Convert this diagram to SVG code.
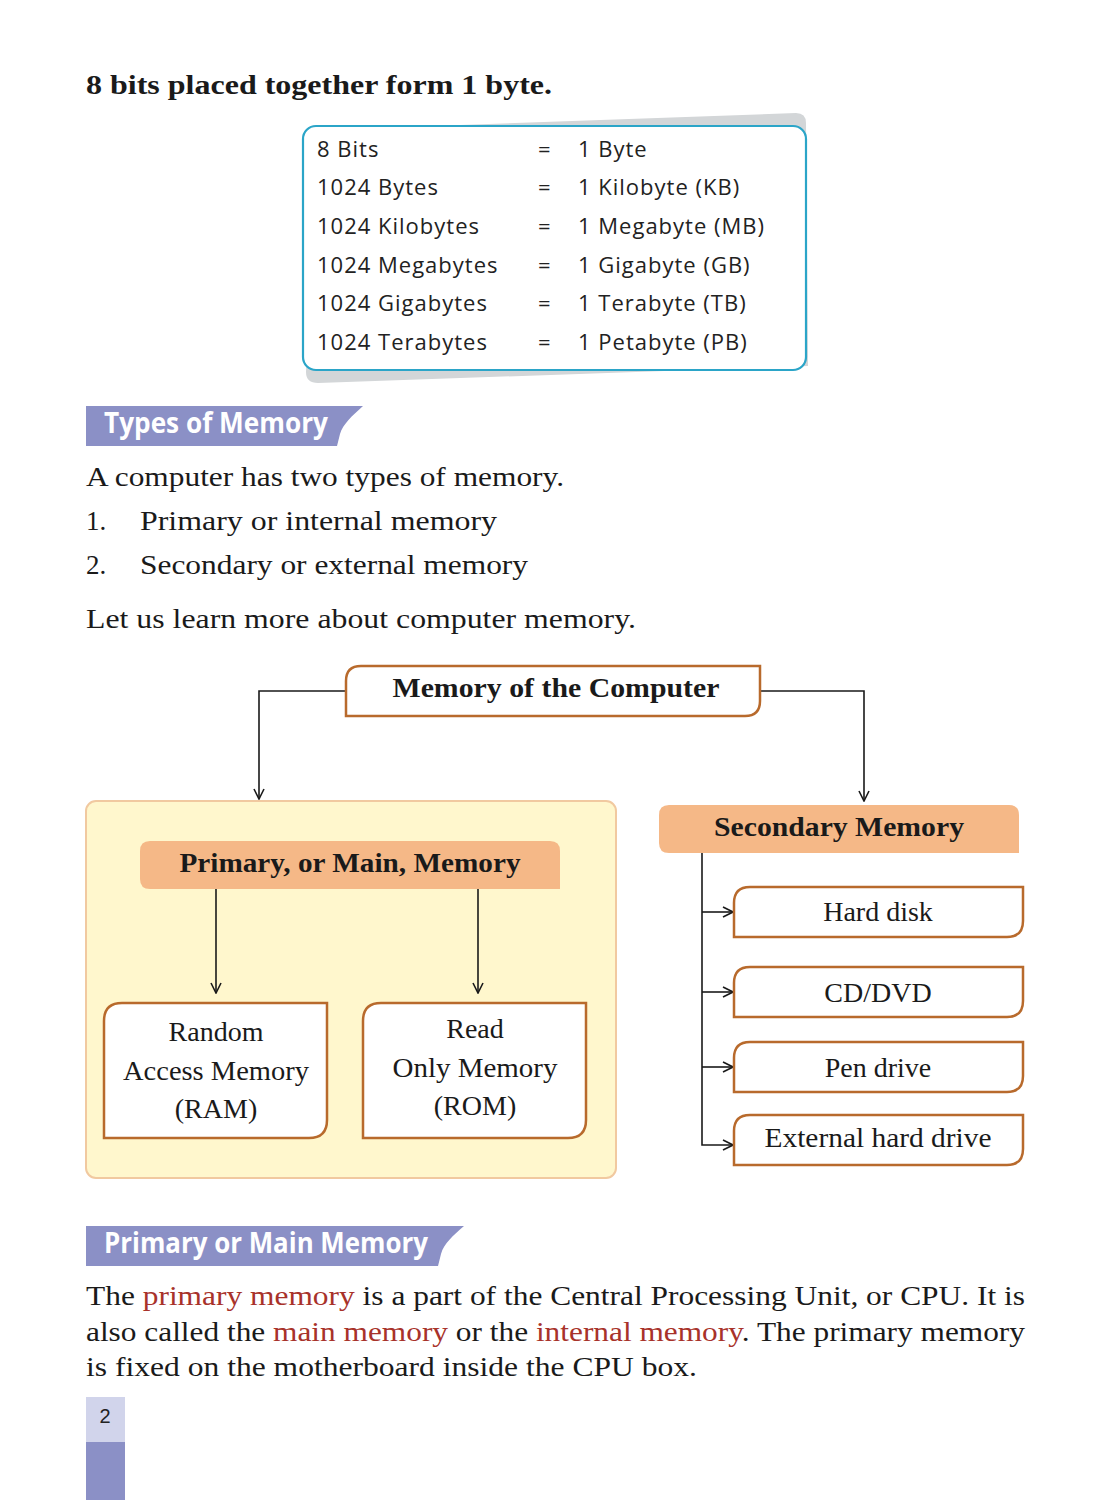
<svg xmlns="http://www.w3.org/2000/svg" width="1109" height="1500" viewBox="0 0 1109 1500">
<defs>
<marker id="arr" viewBox="0 0 12 12" refX="11" refY="6" markerWidth="12" markerHeight="12" markerUnits="userSpaceOnUse" orient="auto">
<path d="M1,1 L11,6 L1,11" fill="none" stroke="#1a1a1a" stroke-width="1.6"/>
</marker>
<style>
.serif{font-family:"Liberation Serif","DejaVu Serif",serif;fill:#1a1a1a}
.body{font-size:27px}
.node{font-size:28px;text-anchor:middle}
.bold{font-weight:bold}
.tbl{font-family:"Open Sans","Noto Sans","Liberation Sans",sans-serif;font-size:22px;fill:#222;letter-spacing:1px}
.ban{font-family:"Open Sans","Liberation Sans",sans-serif;font-weight:bold;font-size:29px;fill:#fff}
.box{fill:#fff;stroke:#b86a2c;stroke-width:2.5}
.peach{fill:#f5b887}
.conn{fill:none;stroke:#1a1a1a;stroke-width:1.6}
.red{fill:#a8322a}
</style>
</defs>
<rect width="1109" height="1500" fill="#fff"/>

<text class="serif bold" x="86" y="94" font-size="27" textLength="466" lengthAdjust="spacingAndGlyphs">8 bits placed together form 1 byte.</text>

<g id="table">
<path d="M318 130 L796 113 Q806 113 806 123 L808 366 L318 383 Q306 383 306 372 Z" fill="#d3d6d8"/>
<rect x="303" y="126" width="503" height="244" rx="13" fill="#fff" stroke="#2ba5c8" stroke-width="2.2"/>
<g class="tbl">
<text x="317" y="157">8 Bits</text><text x="538" y="157">=</text><text x="578" y="157">1 Byte</text>
<text x="317" y="195">1024 Bytes</text><text x="538" y="195">=</text><text x="578" y="195">1 Kilobyte (KB)</text>
<text x="317" y="234">1024 Kilobytes</text><text x="538" y="234">=</text><text x="578" y="234">1 Megabyte (MB)</text>
<text x="317" y="273">1024 Megabytes</text><text x="538" y="273">=</text><text x="578" y="273">1 Gigabyte (GB)</text>
<text x="317" y="311">1024 Gigabytes</text><text x="538" y="311">=</text><text x="578" y="311">1 Terabyte (TB)</text>
<text x="317" y="350">1024 Terabytes</text><text x="538" y="350">=</text><text x="578" y="350">1 Petabyte (PB)</text>
</g>
</g>

<g id="banner-types">
<path d="M86 406 L363 406 C352 416 343 424 340 434 L337 446 L86 446 Z" fill="#8b90c6"/>
<text class="ban" x="104" y="433" textLength="224" lengthAdjust="spacingAndGlyphs">Types of Memory</text>
</g>

<g class="serif body">
<text x="86" y="486" textLength="478" lengthAdjust="spacingAndGlyphs">A computer has two types of memory.</text>
<text x="86" y="530">1.</text>
<text x="140" y="530" textLength="357" lengthAdjust="spacingAndGlyphs">Primary or internal memory</text>
<text x="86" y="574">2.</text>
<text x="140" y="574" textLength="388" lengthAdjust="spacingAndGlyphs">Secondary or external memory</text>
<text x="86" y="628" textLength="550" lengthAdjust="spacingAndGlyphs">Let us learn more about computer memory.</text>
</g>

<g id="primary-container">
<rect x="86" y="801" width="530" height="377" rx="10" fill="#fff7cd" stroke="#f1c9a0" stroke-width="2"/>
</g>

<g id="connectors">
<path class="conn" d="M346 691 L259 691 L259 799" marker-end="url(#arr)"/>
<path class="conn" d="M760 691 L864 691 L864 801" marker-end="url(#arr)"/>
<path class="conn" d="M216 889 L216 993" marker-end="url(#arr)"/>
<path class="conn" d="M478 889 L478 993" marker-end="url(#arr)"/>
<path class="conn" d="M702 853 L702 1145 L733 1145" marker-end="url(#arr)"/>
<path class="conn" d="M702 912 L733 912" marker-end="url(#arr)"/>
<path class="conn" d="M702 992 L733 992" marker-end="url(#arr)"/>
<path class="conn" d="M702 1067 L733 1067" marker-end="url(#arr)"/>
</g>

<g id="root">
<path class="box" d="M346 716 L346 681 Q346 666 361 666 L760 666 L760 701 Q760 716 745 716 Z"/>
<text class="serif node bold" x="556" y="697" textLength="327" lengthAdjust="spacingAndGlyphs">Memory of the Computer</text>
</g>

<g id="primary">
<path class="peach" d="M150 841 L550 841 Q560 841 560 851 L560 889 L150 889 Q140 889 140 879 L140 851 Q140 841 150 841 Z"/>
<text class="serif node bold" x="350" y="872" textLength="341" lengthAdjust="spacingAndGlyphs">Primary, or Main, Memory</text>
</g>

<g id="ram">
<path class="box" d="M104 1138 L104 1021 Q104 1003 122 1003 L327 1003 L327 1120 Q327 1138 309 1138 Z"/>
<text class="serif node" x="216" y="1041">Random</text>
<text class="serif node" x="216" y="1080" textLength="186" lengthAdjust="spacingAndGlyphs">Access Memory</text>
<text class="serif node" x="216" y="1118">(RAM)</text>
</g>

<g id="rom">
<path class="box" d="M363 1138 L363 1021 Q363 1003 381 1003 L586 1003 L586 1120 Q586 1138 568 1138 Z"/>
<text class="serif node" x="475" y="1038">Read</text>
<text class="serif node" x="475" y="1077" textLength="165" lengthAdjust="spacingAndGlyphs">Only Memory</text>
<text class="serif node" x="475" y="1115">(ROM)</text>
</g>

<g id="secondary">
<path class="peach" d="M669 805 L1009 805 Q1019 805 1019 815 L1019 853 L669 853 Q659 853 659 843 L659 815 Q659 805 669 805 Z"/>
<text class="serif node bold" x="839" y="836" textLength="250" lengthAdjust="spacingAndGlyphs">Secondary Memory</text>
</g>

<g id="harddisk">
<path class="box" d="M734 937 L734 903 Q734 887 750 887 L1023 887 L1023 921 Q1023 937 1007 937 Z"/>
<text class="serif node" x="878" y="921">Hard disk</text>
</g>
<g id="cddvd">
<path class="box" d="M734 1017 L734 983 Q734 967 750 967 L1023 967 L1023 1001 Q1023 1017 1007 1017 Z"/>
<text class="serif node" x="878" y="1002">CD/DVD</text>
</g>
<g id="pendrive">
<path class="box" d="M734 1092 L734 1058 Q734 1042 750 1042 L1023 1042 L1023 1076 Q1023 1092 1007 1092 Z"/>
<text class="serif node" x="878" y="1077">Pen drive</text>
</g>
<g id="exthdd">
<path class="box" d="M734 1165 L734 1131 Q734 1115 750 1115 L1023 1115 L1023 1149 Q1023 1165 1007 1165 Z"/>
<text class="serif node" x="878" y="1147" textLength="227" lengthAdjust="spacingAndGlyphs">External hard drive</text>
</g>

<g id="banner-primary">
<path d="M86 1226 L464 1226 C453 1236 444 1243 441 1254 L438 1266 L86 1266 Z" fill="#8b90c6"/>
<text class="ban" x="104" y="1253" textLength="324" lengthAdjust="spacingAndGlyphs">Primary or Main Memory</text>
</g>

<g class="serif" font-size="28">
<text x="86" y="1305" textLength="939" lengthAdjust="spacingAndGlyphs">The <tspan class="red">primary memory</tspan> is a part of the Central Processing Unit, or CPU. It is</text>
<text x="86" y="1341" textLength="939" lengthAdjust="spacingAndGlyphs">also called the <tspan class="red">main memory</tspan> or the <tspan class="red">internal memory</tspan>. The primary memory</text>
<text x="86" y="1376" textLength="611" lengthAdjust="spacingAndGlyphs">is fixed on the motherboard inside the CPU box.</text>
</g>

<g id="page">
<rect x="86" y="1397" width="39" height="45" fill="#d1d4eb"/>
<rect x="86" y="1442" width="39" height="58" fill="#8b90c6"/>
<text x="105" y="1423" text-anchor="middle" font-family="Liberation Sans, sans-serif" font-size="20" fill="#222">2</text>
</g>
</svg>
